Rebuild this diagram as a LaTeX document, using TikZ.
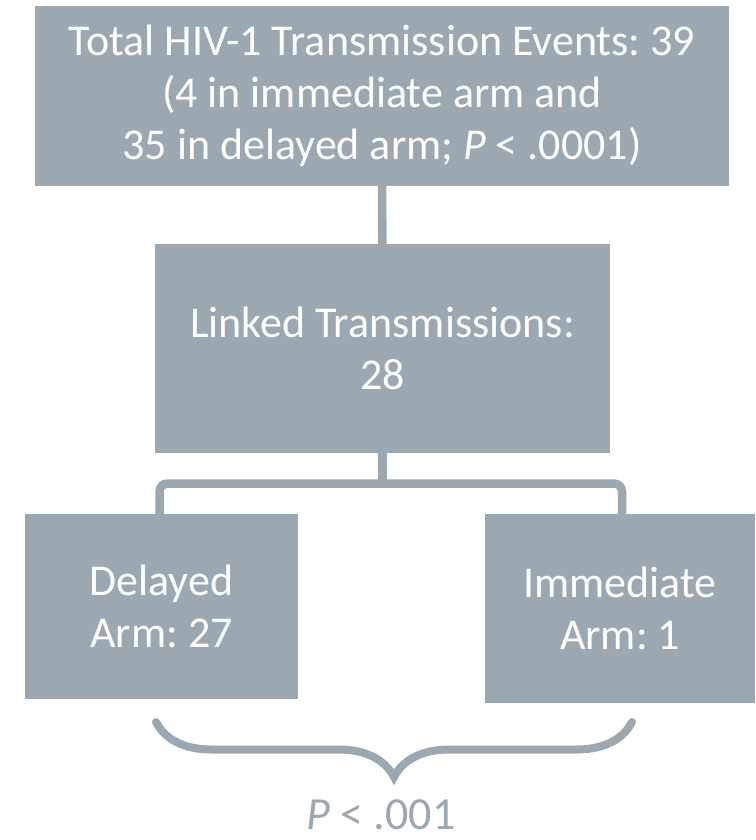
\documentclass[tikz,border=0pt]{standalone}
\usepackage{fontspec}
\setmainfont{Carlito}
\usetikzlibrary{decorations.pathreplacing}
\definecolor{boxgray}{RGB}{155,168,177}
\frenchspacing
\begin{document}
\begin{tikzpicture}[x=1pt,y=-1pt,
  box/.style={fill=boxgray, text=white, align=center, inner sep=0pt,
    font=\fontsize{44}{52}\selectfont},
  link/.style={draw=boxgray, line width=8.5pt, rounded corners=8pt}]
\useasboundingbox (0,0) rectangle (755,840);

\node[box, minimum width=694pt, minimum height=180pt] (total) at (382,96)
  {Total HIV-1 Transmission Events: 39\\(4 in immediate arm and\\35 in delayed arm; \textit{P} < .0001)};
\node[box, minimum width=455pt, minimum height=209pt] (linked) at (382.5,348.5)
  {Linked Transmissions:\\28};
\node[box, minimum width=273pt, minimum height=185pt] (delayed) at (161.5,606.5)
  {Delayed\\Arm: 27};
\node[box, minimum width=270pt, minimum height=189pt] (immediate) at (620,608.5)
  {Immediate\\Arm: 1};

\path[link] (total) -- (linked);
\coordinate (split) at (382.5,483.5);
\path[link] (linked) -- (split);
\path[link] ([xshift=-2pt]delayed.north) |- (split) -| ([xshift=2pt]immediate.north);

% brace under the two arms
\coordinate (bl) at (156,722);
\coordinate (br) at (632,722);
\path[draw=boxgray, line width=8pt, line cap=round,
  decorate, decoration={brace, mirror, amplitude=55pt, aspect=0.5}] (bl) -- (br);
\node[text=boxgray, inner sep=0pt, anchor=base, font=\fontsize{46}{52}\selectfont] (pval) at (381,829) {\textit{P} < .001};
\end{tikzpicture}
\end{document}
